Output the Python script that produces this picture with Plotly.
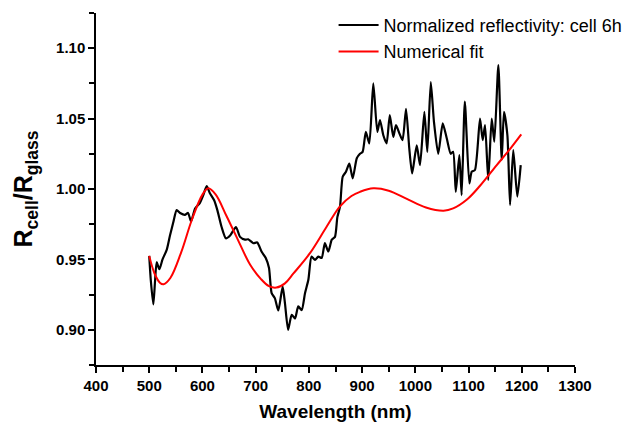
import plotly.graph_objects as go

# Measured reflectivity (cell 6h)
wl_meas = [500, 503, 507.7, 511, 514, 519, 525, 533, 539, 545, 551.6, 558, 567, 573, 578.5, 586, 595,
           601.6, 608, 614, 622, 628, 636, 644, 652, 663, 670.6, 680, 686, 695.6, 703, 711, 719, 725,
           730, 736, 742.6, 750.7, 755, 761, 767.7, 774, 780, 786.5, 792.7, 799, 805, 811.5, 817.7,
           824, 830, 836.5, 843, 849, 853.5, 858.5, 863.5, 869.7, 876, 882.3, 890, 896, 901, 907,
           913.5, 921, 928.6, 933.6, 940, 946, 952, 958.6, 963.7, 970, 976, 982.5, 988.6, 994,
           1002.6, 1008.8, 1017, 1022.5, 1029, 1035, 1043, 1051.5, 1059, 1066.5, 1071, 1076, 1082.7,
           1087, 1093, 1101.5, 1106, 1112, 1121.5, 1126.6, 1131, 1137, 1143.5, 1148.4, 1156, 1162.3,
           1166.6, 1173, 1178, 1184, 1191.6, 1198]
r_meas = [0.9525, 0.935, 0.918, 0.935, 0.948, 0.943, 0.950, 0.957, 0.967, 0.976, 0.985, 0.983, 0.9816,
          0.983, 0.977, 0.986, 0.990, 0.9957, 1.002, 0.997, 0.992, 0.985, 0.973, 0.965, 0.967, 0.973,
          0.966, 0.964, 0.9643, 0.9615, 0.962, 0.9556, 0.951, 0.944, 0.926, 0.9225, 0.9137, 0.9307,
          0.919, 0.900, 0.9107, 0.908, 0.9166, 0.914, 0.926, 0.9355, 0.952, 0.9497, 0.952, 0.951,
          0.9615, 0.9556, 0.964, 0.966, 0.980, 0.9875, 1.0087, 1.0123, 1.018, 1.0076, 1.0218, 1.025,
          1.0264, 1.0406, 1.0324, 1.075, 1.0406, 1.049, 1.038, 1.0324, 1.0525, 1.037, 1.0454, 1.0395,
          1.0347, 1.057, 1.0289, 1.011, 1.031, 1.017, 1.0548, 1.0264, 1.076, 1.0477, 1.025, 1.0466,
          1.036, 1.025, 1.0264, 0.998, 1.024, 0.9957, 1.062, 1.004, 1.0123, 1.0135, 1.050, 1.0347,
          1.0454, 1.0064, 1.050, 1.0335, 1.088, 1.0206, 1.0548, 1.038, 0.9887, 1.0277, 0.9946, 1.017]

# Numerical fit
wl_fit = [500, 510, 520, 527, 540, 560, 580, 600, 611, 625, 645, 664, 690, 710, 725, 739, 755, 771,
          802, 833, 858, 880, 896, 921, 950, 984, 1020, 1053, 1071, 1097, 1122, 1153, 1175, 1199]
r_fit = [0.9525, 0.940, 0.9335, 0.9324, 0.937, 0.955, 0.978, 0.996, 1.0005, 0.996, 0.981, 0.966,
         0.946, 0.936, 0.931, 0.930, 0.933, 0.940, 0.9544, 0.973, 0.9875, 0.995, 0.998, 1.0005,
         0.9988, 0.9930, 0.9869, 0.9846, 0.9862, 0.9925, 1.0025, 1.017, 1.027, 1.0388]

x_ticks = [400, 500, 600, 700, 800, 900, 1000, 1100, 1200, 1300]
y_ticks = [0.90, 0.95, 1.00, 1.05, 1.10]

FONT = "Liberation Sans, Arial, sans-serif"
W, H = 636, 426

fig = go.Figure()
fig.add_trace(go.Scatter(x=wl_meas, y=r_meas, mode="lines", name="Normalized reflectivity: cell 6h",
                         line=dict(color="black", width=2.2, shape="spline", smoothing=0.6)))
fig.add_trace(go.Scatter(x=wl_fit, y=r_fit, mode="lines", name="Numerical fit",
                         line=dict(color="#ff0000", width=2, shape="spline", smoothing=1.0)))

axis_common = dict(showline=True, linecolor="black", linewidth=1.5, ticks="outside", ticklen=6,
                   tickwidth=1.5, tickcolor="black", showgrid=False, zeroline=False, mirror=False,
                   automargin=False,
                   tickfont=dict(family=FONT, size=15, color="black", weight="bold"))

fig.update_xaxes(range=[400, 1300], tickvals=x_ticks, ticktext=[str(v) for v in x_ticks],
                 domain=[96 / W, 575 / W],
                 minor=dict(ticks="outside", ticklen=5, tickwidth=1.5, tickcolor="black", dtick=50, tick0=400),
                 title=dict(text="Wavelength (nm)", font=dict(family=FONT, size=19, color="black", weight="bold"),
                            standoff=12),
                 **axis_common)
fig.update_yaxes(range=[0.875, 1.125], tickvals=y_ticks, ticktext=[f"{v:.2f}" for v in y_ticks],
                 domain=[(H - 365) / H, (H - 13) / H],
                 minor=dict(ticks="outside", ticklen=5, tickwidth=1.5, tickcolor="black", dtick=0.025, tick0=0.875),
                 title=dict(text="R<sub>cell</sub>/R<sub>glass</sub>",
                            font=dict(family=FONT, size=25, color="black", weight="bold"), standoff=16),
                 **axis_common)

fig.update_layout(width=W, height=H, margin=dict(l=0, r=0, t=0, b=0),
                  plot_bgcolor="white", paper_bgcolor="white",
                  legend=dict(x=0.5245, y=0.984, xanchor="left", yanchor="top", bgcolor="rgba(0,0,0,0)",
                              font=dict(family=FONT, size=18, color="black"), tracegroupgap=0,
                              itemwidth=40))

fig.write_html("out.html", config={"displayModeBar": False},
               post_script="document.body.style.margin='0px';")
